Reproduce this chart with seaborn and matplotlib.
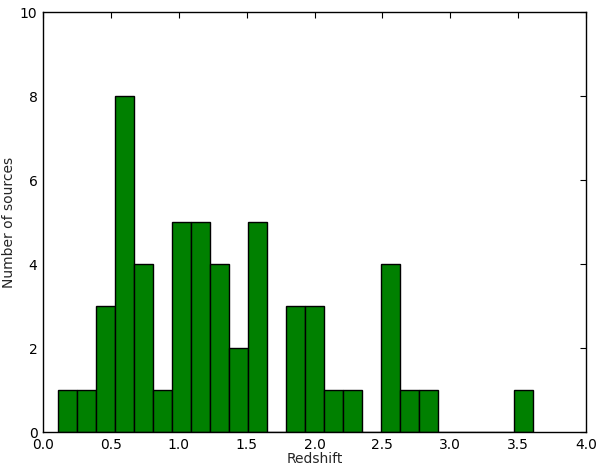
import numpy as np
import pandas as pd
import matplotlib
matplotlib.use("Agg")
import matplotlib.pyplot as plt
import seaborn as sns

# redshift histogram, 25 bins between the min and max redshift
z_min = 0.11
z_max = 3.61
n_bins = 25
counts = [1, 1, 3, 8, 4, 1, 5, 5, 4, 2, 5, 0, 3,
          3, 1, 1, 0, 4, 1, 1, 0, 0, 0, 0, 1]
x_ticks = [0.0, 0.5, 1.0, 1.5, 2.0, 2.5, 3.0, 3.5, 4.0]
y_ticks = [0, 2, 4, 6, 8, 10]

edges = np.linspace(z_min, z_max, n_bins + 1)
centers = (edges[:-1] + edges[1:]) / 2
df = pd.DataFrame({"z": centers, "n": counts})

sns.set_style("white")
plt.rcParams["font.family"] = ["DejaVu Sans"]

fig = plt.figure(figsize=(6, 4.66), dpi=100)
ax = fig.add_axes([43 / 600, 34 / 466, 543 / 600, 420 / 466])

sns.histplot(data=df, x="z", weights="n", bins=edges.tolist(), color="green",
             edgecolor="black", linewidth=1, alpha=1, ax=ax)

ax.set_xlim(0, 4)
ax.set_ylim(0, 10)
ax.set_xticks(x_ticks)
ax.set_xticklabels([f"{t:.1f}" for t in x_ticks])
ax.set_yticks(y_ticks)
ax.tick_params(direction="in", length=4, width=0.8, top=True, right=True,
               labelsize=10, pad=4, colors="black")
for s in ax.spines.values():
    s.set_color("black")
    s.set_linewidth(1)
ax.set_xlabel("Redshift", fontsize=10, labelpad=0)
ax.set_ylabel("Number of sources", fontsize=10, labelpad=3)

plt.savefig("out.png", dpi=100)
